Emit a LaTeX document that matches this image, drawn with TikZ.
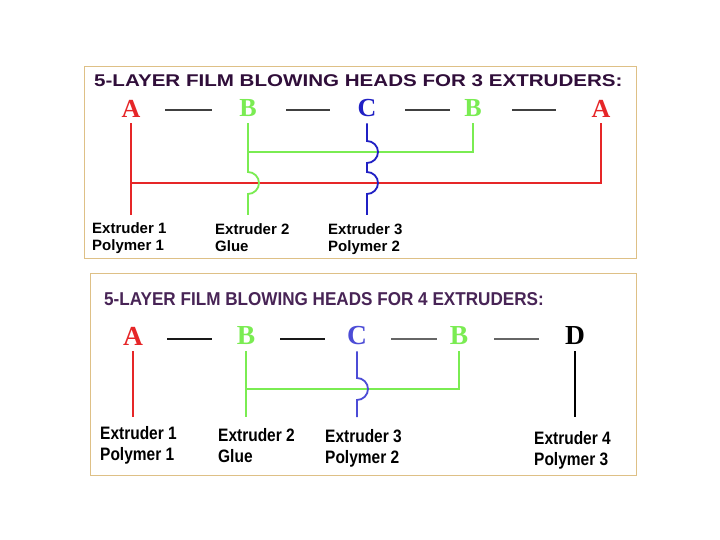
\documentclass[tikz,border=0pt]{standalone}
\usepackage{fontspec}
\setmainfont{Liberation Sans}
\newfontfamily\layerfont{Liberation Serif}
\newfontfamily\widefont[FakeStretch=1.21]{Liberation Sans}
\newfontfamily\slimfont[FakeStretch=0.92]{Liberation Sans}
\newfontfamily\narrowfont[FakeStretch=0.86]{Liberation Sans}
\usetikzlibrary{calc}
\definecolor{filmred}{RGB}{230,38,40}
\definecolor{filmgreen}{RGB}{122,236,82}
\definecolor{filmblue}{RGB}{32,32,196}
\definecolor{filmbluelt}{RGB}{76,76,214}
\definecolor{headpurple}{RGB}{48,14,58}
\definecolor{headpurplelt}{RGB}{72,36,86}
\definecolor{frametan}{RGB}{222,192,134}

\begin{document}
\begin{tikzpicture}[x=1pt,y=1pt,
  panel/.style={draw=frametan,line width=1pt,fill=white},
  heading/.style={anchor=west,inner sep=0pt},
  layer/.style={inner sep=0pt,font=\layerfont\bfseries\fontsize{26}{29}\selectfont},
  layerbig/.style={layer,font=\layerfont\bfseries\fontsize{27.5}{30}\selectfont},
  extr/.style={anchor=north west,inner sep=0pt,align=left,
    font=\bfseries\fontsize{15}{17}\selectfont},
  extrbig/.style={extr,font=\narrowfont\bfseries\fontsize{18}{21}\selectfont},
  feed/.style={line width=1.8pt,shorten <=6pt},
  gap/.style={line width=1.4pt,draw=black!75}]
\fill[white] (0,0) rectangle (720,-540);
\useasboundingbox (0,0) rectangle (720,-540);
\draw[panel] (84,-67) rectangle (636,-258);
\node[heading,text=headpurple,font=\widefont\bfseries\fontsize{17}{20}\selectfont]
  (title3) at (94,-81) {5-LAYER FILM BLOWING HEADS FOR 3 EXTRUDERS:};
\node[layer,text=filmred] (a1) at (131,-108.5) {A};
\node[layer,text=filmgreen] (b1) at (248,-108.5) {B};
\node[layer,text=filmblue] (c1) at (367,-108.5) {C};
\node[layer,text=filmgreen] (b2) at (473,-108.5) {B};
\node[layer,text=filmred] (a2) at (601,-108.5) {A};
\draw[gap] (165,-110) -- (212,-110);
\draw[gap] (286,-110) -- (330,-110);
\draw[gap] (405,-110) -- (450,-110);
\draw[gap] (512,-110) -- (556,-110);
\node[extr] (ex1) at (92,-222) {Extruder 1\\Polymer 1};
\node[extr] (ex2) at (215,-223) {Extruder 2\\Glue};
\node[extr] (ex3) at (328,-223) {Extruder 3\\Polymer 2};
\coordinate (greenbus3) at (0,-152);
\coordinate (redbus3) at (0,-183);
\coordinate (foot3) at (0,-215);
\draw[feed,filmred] (a1.south) -- (a1 |- foot3);
\draw[feed,filmred] (a2.south) -- (a2 |- redbus3) -- (a1 |- redbus3);
\draw[feed,filmgreen] (b2.south) -- (b2 |- greenbus3) -- (b1 |- greenbus3);
\draw[feed,filmgreen] (b1.south) -- ($(b1 |- redbus3)+(0,11)$)
  arc[start angle=90,end angle=-90,radius=11] -- (b1 |- foot3);
\draw[feed,filmblue] (c1.south) -- ($(c1 |- greenbus3)+(0,11)$)
  arc[start angle=90,end angle=-90,radius=11] -- ($(c1 |- redbus3)+(0,11)$)
  arc[start angle=90,end angle=-90,radius=11] -- (c1 |- foot3);
\draw[panel] (90,-273) rectangle (636,-475);
\node[heading,text=headpurplelt,font=\slimfont\bfseries\fontsize{18.6}{22}\selectfont]
  (title4) at (104,-299.5) {5-LAYER FILM BLOWING HEADS FOR 4 EXTRUDERS:};
\node[layerbig,text=filmred] (a3) at (133,-336) {A};
\node[layerbig,text=filmgreen] (b3) at (246,-336) {B};
\node[layerbig,text=filmbluelt] (c3) at (357,-336) {C};
\node[layerbig,text=filmgreen] (b4) at (459,-336) {B};
\node[layerbig,text=black] (d1) at (575,-336) {D};
\draw[gap,draw=black!90] (167,-339) -- (212,-339);
\draw[gap,draw=black!90] (280,-339) -- (325,-339);
\draw[gap,draw=black!60] (391,-339) -- (437,-339);
\draw[gap,draw=black!60] (494,-339) -- (539,-339);
\node[extrbig] (ex4) at (100,-426) {Extruder 1\\Polymer 1};
\node[extrbig] (ex5) at (218,-428) {Extruder 2\\Glue};
\node[extrbig] (ex6) at (325,-429) {Extruder 3\\Polymer 2};
\node[extrbig] (ex7) at (534,-431) {Extruder 4\\Polymer 3};
\coordinate (greenbus4) at (0,-389);
\coordinate (foot4) at (0,-417);
\draw[feed,filmred] (a3.south) -- (a3 |- foot4);
\draw[feed,filmgreen] (b4.south) -- (b4 |- greenbus4) -- (b3 |- greenbus4);
\draw[feed,filmgreen] (b3.south) -- (b3 |- foot4);
\draw[feed,filmbluelt] (c3.south) -- ($(c3 |- greenbus4)+(0,11)$)
  arc[start angle=90,end angle=-90,radius=11] -- (c3 |- foot4);
\draw[feed,black] (d1.south) -- (d1 |- foot4);
\end{tikzpicture}
\end{document}
